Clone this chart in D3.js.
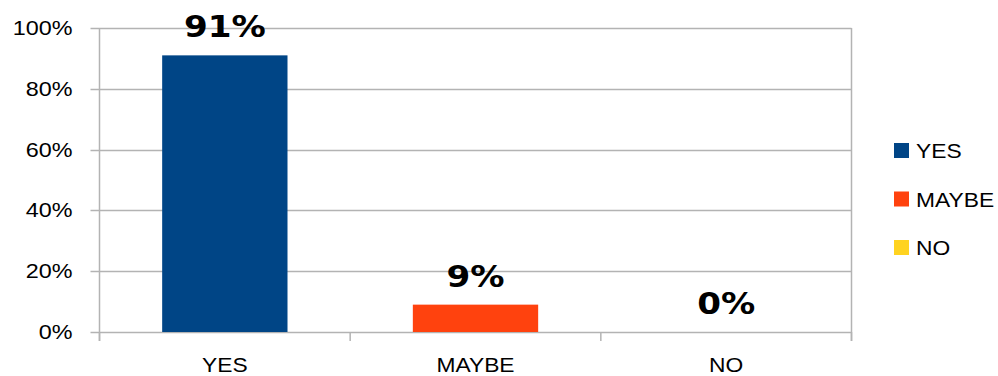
<!DOCTYPE html>
<html>
<head>
<meta charset="utf-8">
<script src="https://cdn.jsdelivr.net/npm/d3@7"></script>
<style>
  html, body { margin: 0; padding: 0; background: #fff; }
  svg { display: block; }
</style>
</head>
<body>
<svg id="chart" width="998" height="376"></svg>
<script>
// Survey answers and their shares
const categories = ["YES", "MAYBE", "NO"];
const values = [0.91, 0.09, 0.0];
const valueLabels = ["91%", "9%", "0%"];
const colors = ["#004586", "#ff420e", "#ffd320"];
const yTicks = [0, 0.2, 0.4, 0.6, 0.8, 1.0];

const svg = d3.select("#chart");
const plotLeft = 99.5, plotRight = 851.5, plotTop = 28, plotBottom = 332;
const stretch = 1.14; // horizontal widening of the text glyphs

const x = d3.scaleBand().domain(categories).range([plotLeft, plotRight]).paddingInner(0.5).paddingOuter(0.25);
const y = d3.scaleLinear().domain([0, 1]).range([plotBottom, plotTop]);

const grid = "#b3b3b3";

// horizontal gridlines
svg.append("g").selectAll("line").data(yTicks).join("line")
  .attr("x1", plotLeft - 9).attr("x2", plotRight)
  .attr("y1", d => Math.round(y(d)) + 0.5).attr("y2", d => Math.round(y(d)) + 0.5)
  .attr("stroke", grid).attr("stroke-width", 1.3);

// y tick labels
svg.append("g").selectAll("text").data(yTicks).join("text")
  .attr("transform", d => `translate(${plotLeft - 27},${y(d) + 7}) scale(${stretch},1)`)
  .attr("text-anchor", "end")
  .attr("font-family", "Liberation Sans, Arial, sans-serif")
  .attr("font-size", 20.5)
  .attr("fill", "#000")
  .text(d3.format(".0%"));

// bars
svg.append("g").selectAll("rect").data(categories).join("rect")
  .attr("x", d => x(d))
  .attr("width", x.bandwidth())
  .attr("y", (d, i) => y(values[i]))
  .attr("height", (d, i) => y(0) - y(values[i]))
  .attr("fill", (d, i) => colors[i]);

// axes frame: left axis, right border, category ticks
const edges = d3.range(categories.length + 1).map(i => plotLeft + i * x.step());
svg.append("line").attr("x1", plotLeft).attr("x2", plotLeft).attr("y1", plotTop).attr("y2", plotBottom + 9)
  .attr("stroke", grid).attr("stroke-width", 1.5);
svg.append("line").attr("x1", plotRight).attr("x2", plotRight).attr("y1", plotTop).attr("y2", plotBottom + 9)
  .attr("stroke", grid).attr("stroke-width", 1.5);
svg.append("g").selectAll("line").data(edges).join("line")
  .attr("x1", d => d).attr("x2", d => d).attr("y1", plotBottom).attr("y2", plotBottom + 9)
  .attr("stroke", grid).attr("stroke-width", 1.5);

// category labels
svg.append("g").selectAll("text").data(categories).join("text")
  .attr("transform", d => `translate(${x(d) + x.bandwidth() / 2},${plotBottom + 40}) scale(${stretch},1)`)
  .attr("text-anchor", "middle")
  .attr("font-family", "Liberation Sans, Arial, sans-serif")
  .attr("font-size", 20)
  .attr("fill", "#000")
  .text(d => d);

// value labels above bars
svg.append("g").selectAll("text").data(categories).join("text")
  .attr("transform", (d, i) => `translate(${x(d) + x.bandwidth() / 2},${y(values[i]) - 18}) scale(${stretch},1)`)
  .attr("text-anchor", "middle")
  .attr("font-family", "DejaVu Sans, Verdana, sans-serif")
  .attr("font-weight", "bold")
  .attr("font-size", 30)
  .attr("fill", "#000")
  .text((d, i) => valueLabels[i]);

// legend
const legend = svg.append("g").selectAll("g").data(categories).join("g")
  .attr("transform", (d, i) => `translate(894,${143 + i * 48.5})`);
legend.append("rect").attr("width", 15).attr("height", 15).attr("fill", (d, i) => colors[i]);
legend.append("text")
  .attr("transform", `translate(22,15) scale(${stretch},1)`)
  .attr("font-family", "Liberation Sans, Arial, sans-serif")
  .attr("font-size", 20)
  .attr("fill", "#000")
  .text(d => d);
</script>
</body>
</html>
